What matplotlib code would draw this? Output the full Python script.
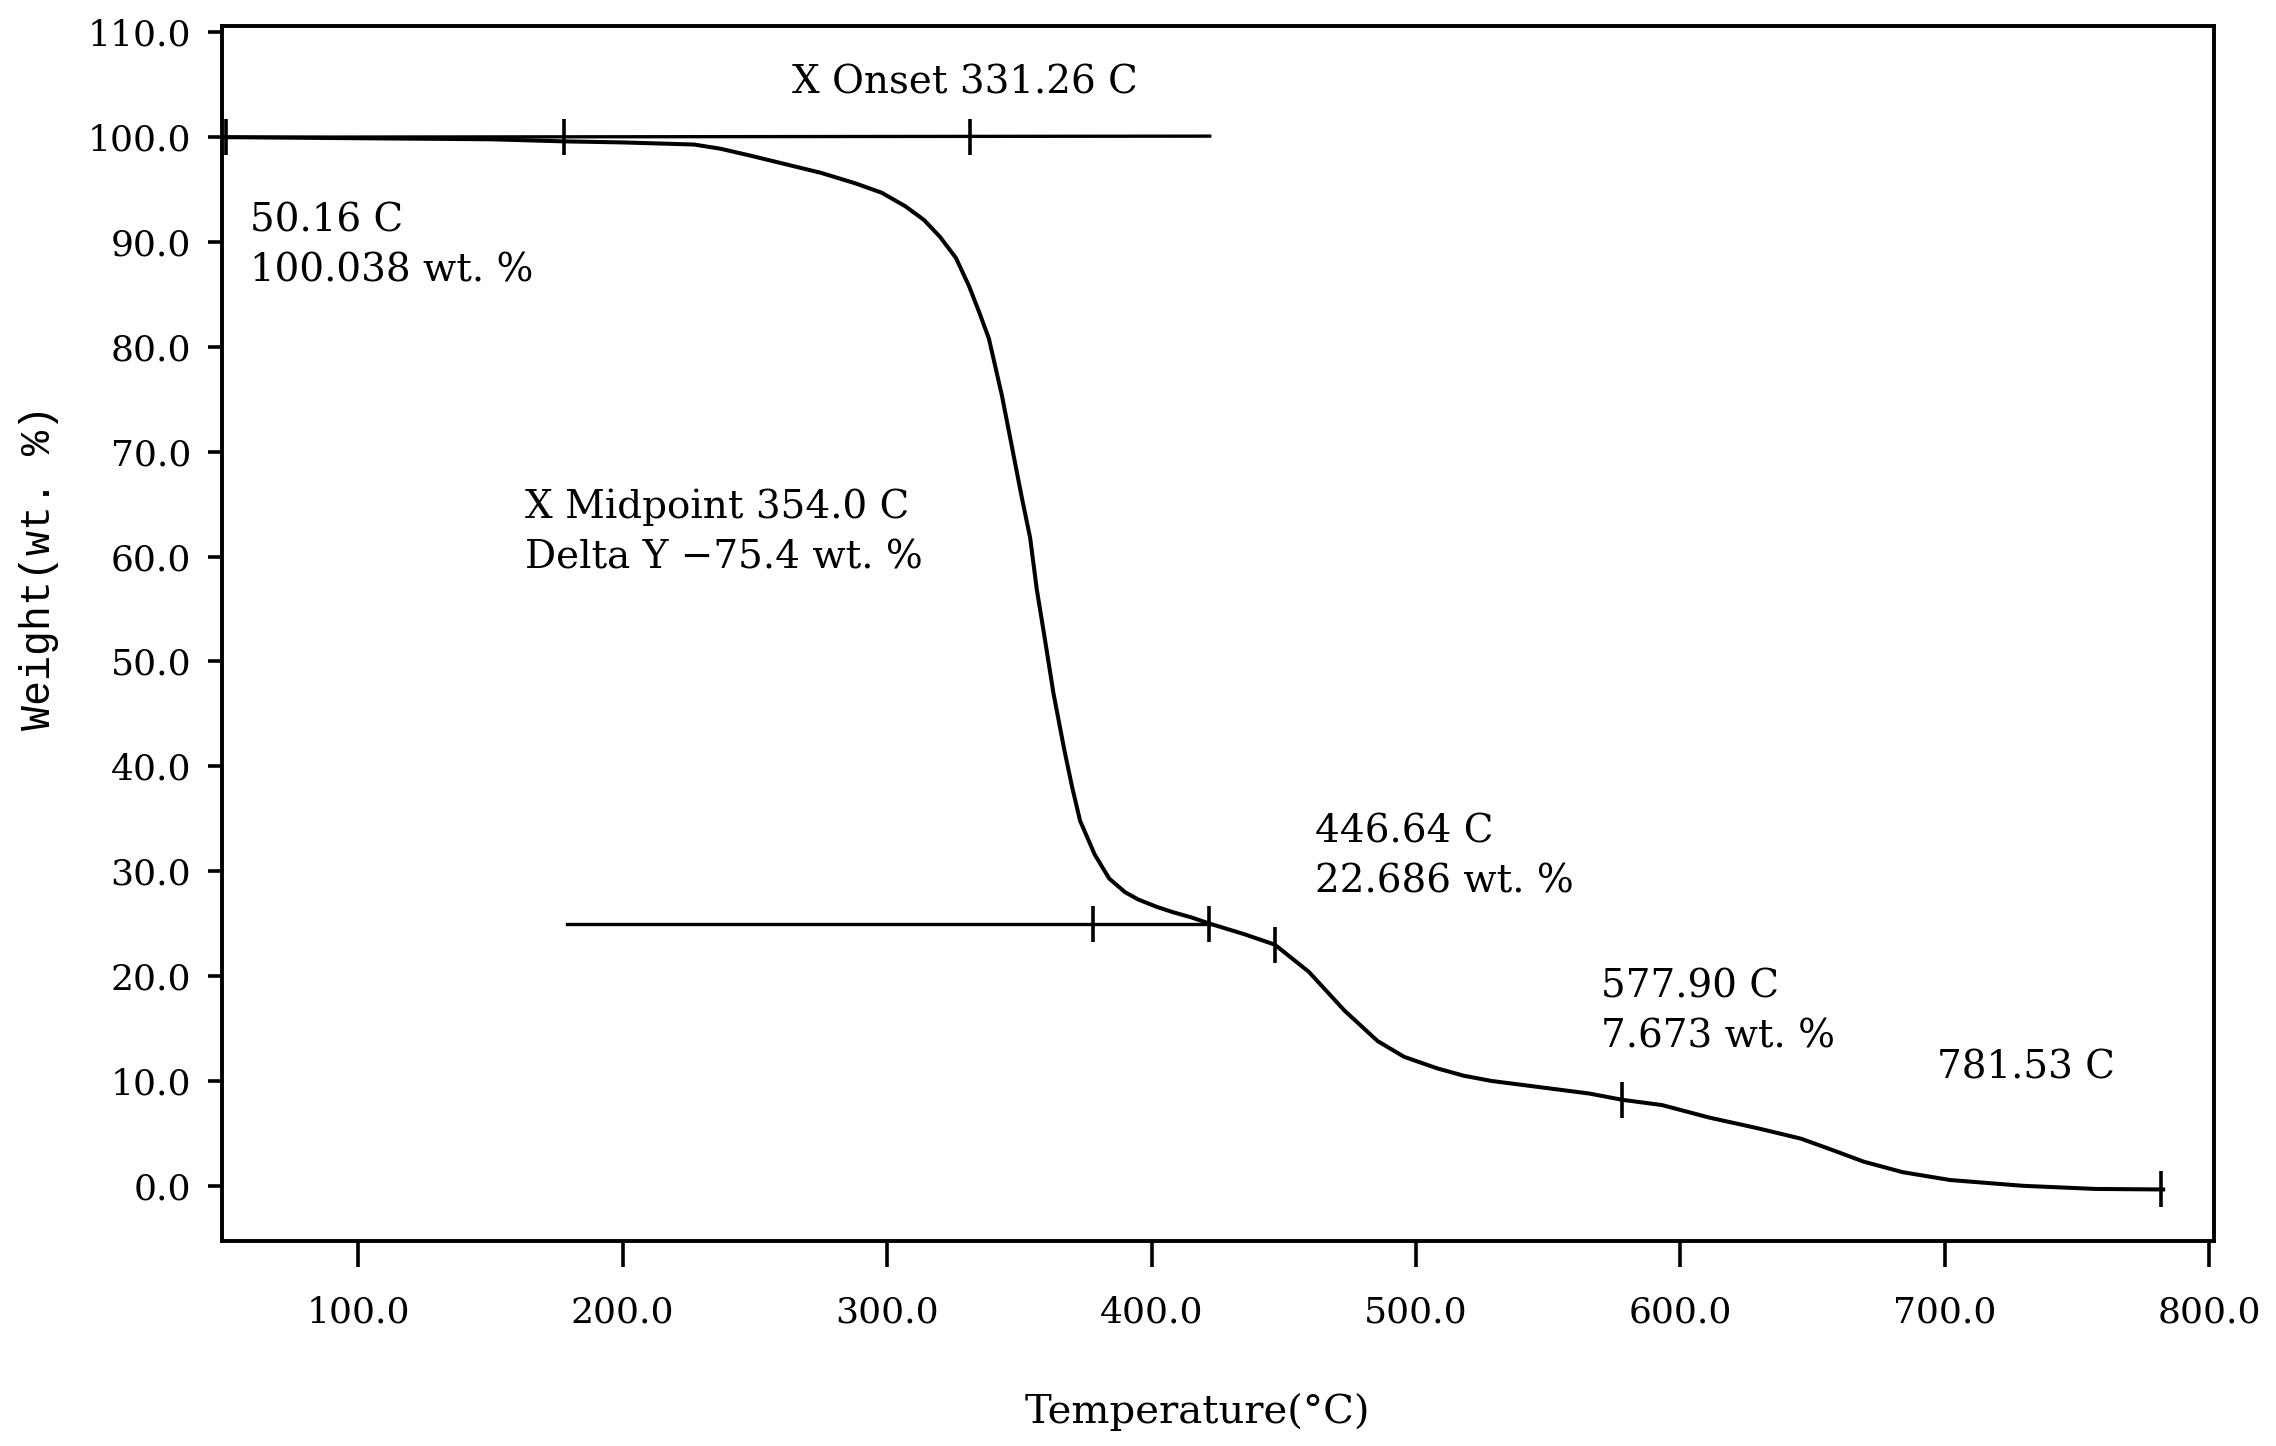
import matplotlib
matplotlib.use('Agg')
import matplotlib.pyplot as plt
from matplotlib.ticker import FormatStrFormatter

plt.rcParams['font.family'] = 'DejaVu Serif'

# TGA curve
temperature = [50, 100, 150, 178, 200, 227, 237, 249, 262, 275, 288, 298, 307, 314,
               320, 326, 331, 335, 338.5, 343.4, 347.2, 350.9, 354.1, 356.6, 359.7, 362.9,
               367, 370, 373, 378.5, 384, 390, 395, 402, 408, 415, 422, 435, 446.6,
               459.5, 473, 485.5, 495.5, 508, 518, 528.5, 547, 565.5, 578, 593, 611,
               629, 645.5, 656.5, 669.3, 684, 702, 729.5, 757, 782.5]
weight = [100.0, 99.9, 99.8, 99.6, 99.5, 99.3, 98.9, 98.2, 97.4, 96.6, 95.6, 94.7, 93.4, 92.1,
          90.5, 88.5, 85.8, 83.2, 80.8, 75.4, 70.5, 65.7, 61.8, 56.9, 52.1, 47.0,
          41.6, 38.0, 34.8, 31.6, 29.3, 28.0, 27.3, 26.6, 26.1, 25.6, 25.0, 24.0, 23.0,
          20.4, 16.7, 13.8, 12.3, 11.2, 10.5, 10.0, 9.4, 8.8, 8.2, 7.7, 6.5,
          5.5, 4.5, 3.5, 2.3, 1.3, 0.55, 0.0, -0.3, -0.35]

# tangent / baseline segments
onset_line_x = [48.5, 422]
onset_line_y = [100.0, 100.1]
step_line_x = [179, 422]
step_line_y = [25.0, 25.0]

# short vertical marks
mark_x = [50.16, 178, 331.26, 377.8, 421.8, 446.64, 577.90, 781.53]
mark_y = [100.0, 100.0, 100.05, 25.0, 25.0, 23.0, 8.2, -0.35]

# annotations
notes_x = [264, 59, 163, 462, 570, 697]
notes_y = [105.2, 89.6, 62.3, 31.4, 16.6, 11.2]
notes_text = ['X Onset 331.26 C',
              '50.16 C\n100.038 wt. %',
              'X Midpoint 354.0 C\nDelta Y \u221275.4 wt. %',
              '446.64 C\n22.686 wt. %',
              '577.90 C\n7.673 wt. %',
              '781.53 C']

xticks = [100, 200, 300, 400, 500, 600, 700, 800]
yticks = [0, 10, 20, 30, 40, 50, 60, 70, 80, 90, 100, 110]

fig = plt.figure(figsize=(22.76, 14.46), dpi=100)
ax = fig.add_axes([0.0975, 0.1418, 0.8751, 0.8402])

ax.plot(temperature, weight, color='black', lw=2.9, solid_joinstyle='round')
ax.plot(onset_line_x, onset_line_y, color='black', lw=2.4)
ax.plot(step_line_x, step_line_y, color='black', lw=2.4)
ax.plot(mark_x, mark_y, ls='none', marker='|', color='black', ms=26, mew=2.6)

for x, y, t in zip(notes_x, notes_y, notes_text):
    ax.text(x, y, t, fontsize=28, ha='left', va='center', linespacing=1.45)

ax.set_xlim(48.5, 801.6)
ax.set_ylim(-5.26, 110.6)
ax.set_xticks(xticks)
ax.set_yticks(yticks)
ax.xaxis.set_major_formatter(FormatStrFormatter('%.1f'))
ax.yaxis.set_major_formatter(FormatStrFormatter('%.1f'))
ax.tick_params(axis='x', direction='out', length=19, width=2.6, pad=20, labelsize=26)
ax.tick_params(axis='y', direction='out', length=10, width=2.6, pad=12, labelsize=26)

for s in ax.spines.values():
    s.set_linewidth(2.8)

ax.set_xlabel('Temperature(\u00b0C)', fontsize=29)
ax.xaxis.set_label_coords(0.49, -0.125)
ax.set_ylabel('Weight(wt. %)', fontsize=30, family='Liberation Mono')
ax.yaxis.set_label_coords(-0.082, 0.554)

fig.savefig('out.png', dpi=100)
